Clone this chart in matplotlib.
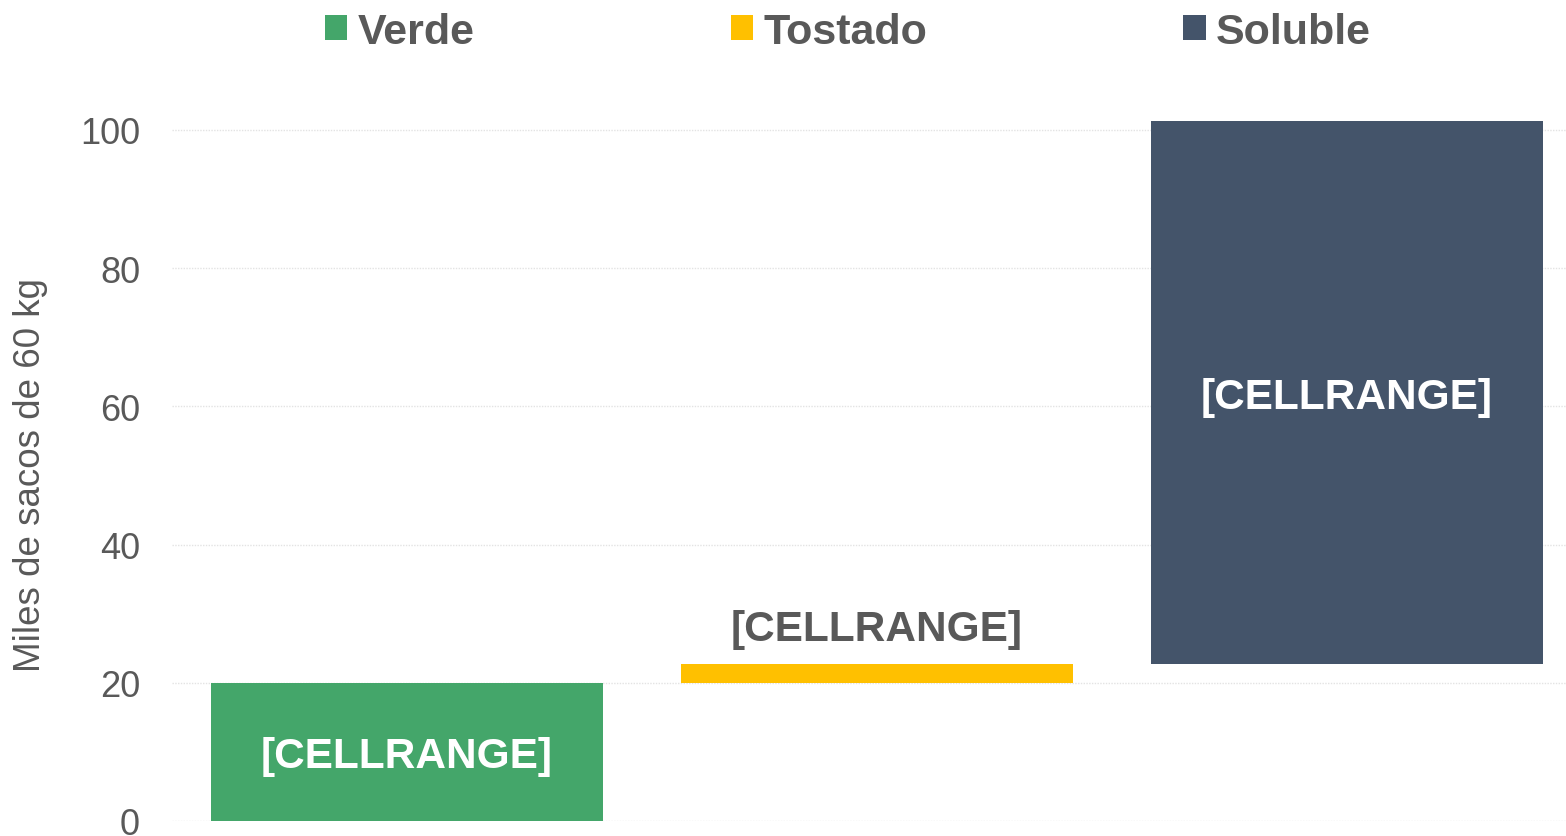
import matplotlib
matplotlib.use("Agg")
import matplotlib.pyplot as plt
from matplotlib.patches import Patch

categories = ["Verde", "Tostado", "Soluble"]
bottoms = [0.0, 19.9, 22.7]
heights = [19.9, 2.8, 78.6]
colors = ["#44A66A", "#FFC000", "#44546A"]
labels = ["[CELLRANGE]", "[CELLRANGE]", "[CELLRANGE]"]
label_inside = [True, False, True]
yticks = [0, 20, 40, 60, 80, 100]

plt.rcParams['font.family'] = ['Liberation Sans', 'DejaVu Sans']
W, H = 1566, 837
fig = plt.figure(figsize=(W / 100, H / 100), dpi=100)
ymax = 103
px_per_unit = (822 - 131) / 100
top_px = 822 - ymax * px_per_unit
left, right = 172, 1582
ax = fig.add_axes([left / W, (H - 822) / H, (right - left) / W, (822 - top_px) / H])

x = list(range(len(categories)))
ax.bar(x, heights, bottom=bottoms, width=392 / 470, color=colors, zorder=3)
ax.set_xlim(-0.5, 2.5)
ax.set_ylim(0, ymax)
ax.set_yticks(yticks)
ax.set_xticks([])
ax.tick_params(axis='y', length=0, labelsize=26, labelcolor="#595959", pad=23)
for s in ax.spines.values():
    s.set_visible(False)
ax.yaxis.grid(True, color="#E3E3E3", linestyle=(0, (1, 1)), linewidth=1, zorder=0)
ax.set_ylabel("Miles de sacos de 60 kg", fontsize=26.5, color="#595959")
ax.yaxis.set_label_coords((48 - left) / (right - left), (822 - 475) / (822 - top_px))

lfs = 30.5
for i in x:
    if label_inside[i]:
        ax.annotate(labels[i], (i, bottoms[i] + heights[i] / 2), xytext=(0, -3),
                    textcoords="offset points", ha="center", va="center",
                    fontsize=lfs, fontweight="bold", color="white", zorder=4)
    else:
        ax.annotate(labels[i], (i, bottoms[i] + heights[i]), xytext=(0, 25),
                    textcoords="offset points", ha="center", va="center",
                    fontsize=lfs, fontweight="bold", color="#595959", zorder=4)

handles = [Patch(facecolor=c, edgecolor="none") for c in colors]
fs = 31
fig.legend(handles, categories, loc="center", bbox_to_anchor=(848 / W, 1 - 33 / H),
           ncol=3, frameon=False, prop={'weight': 'bold', 'size': fs},
           labelcolor="#595959", handlelength=0.52, handleheight=0.52,
           handletextpad=0.24, columnspacing=5.95, borderpad=0)

fig.savefig("out.png", dpi=100)
